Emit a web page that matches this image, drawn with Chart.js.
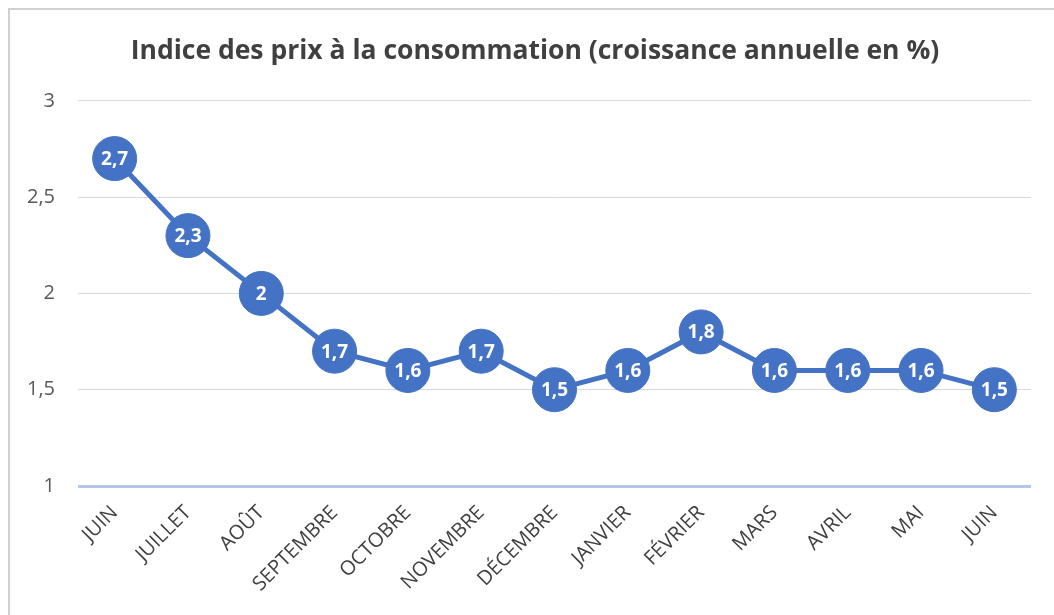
<!DOCTYPE html>
<html><head><meta charset="utf-8">
<script src="https://cdn.jsdelivr.net/npm/chart.js@4"></script>
<style>html,body{margin:0;padding:0;background:#fff;}#wrap{position:absolute;left:0;top:0;width:1054px;height:615px;}</style>
</head><body>
<div id="wrap"><canvas id="c" width="1054" height="615"></canvas></div>
<script>
const categories = ['JUIN','JUILLET','AOÛT','SEPTEMBRE','OCTOBRE','NOVEMBRE','DÉCEMBRE','JANVIER','FÉVRIER','MARS','AVRIL','MAI','JUIN'];
const values = [2.7, 2.3, 2.0, 1.7, 1.6, 1.7, 1.5, 1.6, 1.8, 1.6, 1.6, 1.6, 1.5];
const title = 'Indice des prix à la consommation (croissance annuelle en %)';
const yMin = 1, yMax = 3, yStep = 0.5;

const FONT = '"Open Sans", sans-serif';
const fmt = v => String(v).replace('.', ',');

const borderPlugin = {
  id: 'frame',
  beforeDraw(chart) {
    const ctx = chart.ctx;
    ctx.save();
    ctx.strokeStyle = '#d0d0d0';
    ctx.lineWidth = 2;
    ctx.beginPath();
    ctx.moveTo(9, 615); ctx.lineTo(9, 9); ctx.lineTo(1054, 9);
    ctx.stroke();
    ctx.restore();
  }
};
const labelPlugin = {
  id: 'pointLabels',
  afterDatasetsDraw(chart) {
    const ctx = chart.ctx;
    const meta = chart.getDatasetMeta(0);
    ctx.save();
    ctx.fillStyle = '#ffffff';
    ctx.font = 'bold 19px ' + FONT;
    ctx.textAlign = 'center';
    ctx.textBaseline = 'middle';
    meta.data.forEach((pt, i) => {
      ctx.fillText(fmt(chart.data.datasets[0].data[i]), pt.x, pt.y + 1);
    });
    ctx.restore();
  }
};

new Chart(document.getElementById('c'), {
  type: 'line',
  data: {
    labels: categories,
    datasets: [{
      data: values,
      borderColor: '#4472C4',
      borderWidth: 5,
      backgroundColor: '#4472C4',
      pointRadius: 22,
      pointHoverRadius: 22,
      pointBackgroundColor: '#4472C4',
      pointBorderColor: '#4472C4',
      pointBorderWidth: 1,
      tension: 0
    }]
  },
  options: {
    responsive: false,
    animation: false,
    events: [],
    layout: { padding: { left: 35, right: 19, top: 0, bottom: 0 } },
    plugins: {
      legend: { display: false },
      tooltip: { enabled: false },
      title: {
        display: true,
        text: title,
        color: '#404040',
        font: { family: FONT, size: 26.5, weight: 'bold', lineHeight: 1.2 },
        padding: { top: 36, bottom: 33 }
      }
    },
    scales: {
      x: {
        offset: true,
        grid: { display: false, drawTicks: false },
        border: { display: false },
        ticks: {
          color: '#404040',
          font: { family: FONT, size: 20 },
          minRotation: 45, maxRotation: 45,
          padding: 15,
          autoSkip: false
        },
        afterFit(s) { s.height = 129; }
      },
      y: {
        min: yMin, max: yMax,
        grid: {
          drawTicks: false,
          color: c => (c.tick && c.tick.value === yMin) ? '#b4c7e7' : '#d9d9d9',
          lineWidth: c => (c.tick && c.tick.value === yMin) ? 3 : 1
        },
        border: { display: false },
        ticks: {
          stepSize: yStep,
          color: '#595959',
          font: { family: FONT, size: 20 },
          padding: 23,
          callback: v => fmt(v)
        },
        afterFit(s) { s.width = 43; s._computeLabelArea = () => undefined; }
      }
    }
  },
  plugins: [borderPlugin, labelPlugin]
});
</script>
</body></html>
